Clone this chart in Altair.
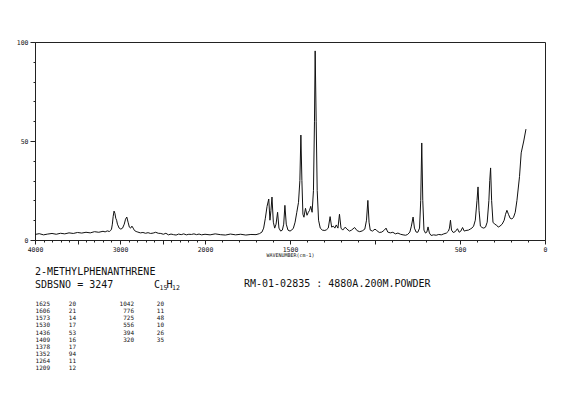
import altair as alt
import pandas as pd

# Raman spectrum of 2-methylphenanthrene
wavenumber = [
    4000, 3950, 3900, 3850, 3800, 3750, 3700, 3650, 3600, 3550, 3500, 3450, 3400, 3350,
    3300, 3250, 3200, 3175, 3150, 3125, 3110, 3100, 3090, 3080, 3070, 3060, 3050, 3040,
    3030, 3010, 2990, 2970, 2950, 2935, 2920, 2905, 2890, 2875, 2860, 2845, 2830, 2810,
    2790, 2760, 2730, 2700, 2670, 2640, 2610, 2580, 2550, 2520, 2490, 2460, 2430, 2400,
    2370, 2340, 2310, 2280, 2250, 2220, 2190, 2160, 2130, 2100, 2070, 2040, 2000, 1970,
    1940, 1910, 1880, 1850, 1820, 1790, 1760, 1730, 1700, 1680, 1665, 1655, 1645, 1635,
    1625, 1618, 1612, 1606, 1598, 1590, 1582, 1573, 1565, 1555, 1545, 1537, 1530, 1522,
    1512, 1500, 1490, 1480, 1470, 1460, 1450, 1442, 1436, 1430, 1424, 1418, 1409, 1400,
    1392, 1385, 1378, 1370, 1362, 1356, 1352, 1346, 1340, 1332, 1322, 1310, 1295, 1285,
    1275, 1264, 1255, 1245, 1236, 1228, 1218, 1209, 1200, 1190, 1175, 1165, 1150, 1138,
    1120, 1105, 1090, 1075, 1060, 1050, 1042, 1035, 1028, 1015, 1000, 990, 975, 960,
    945, 935, 925, 910, 895, 880, 865, 850, 835, 820, 808, 795, 786, 776, 768, 758,
    748, 738, 731, 725, 719, 712, 703, 695, 688, 680, 670, 655, 640, 625, 610, 595,
    580, 568, 562, 556, 550, 540, 528, 515, 505, 495, 485, 475, 465, 450, 440, 430,
    420, 410, 400, 394, 388, 380, 370, 360, 350, 340, 330, 325, 320, 314, 306, 296,
    285, 275, 265, 252, 240, 232, 224, 215, 205, 195, 185, 175, 165, 150, 140, 125, 112,
]
intensity = [
    2.8, 3.2, 2.6, 3.0, 3.3, 2.9, 3.4, 3.1, 3.6, 3.3, 3.8, 3.5, 3.9, 3.6,
    4.2, 3.9, 4.4, 4.1, 4.6, 4.3, 4.8, 5.5, 8.0, 12.0, 14.6, 13.5, 11.0, 10.0,
    8.0, 6.0, 5.5, 6.0, 8.0, 10.5, 11.6, 9.0, 6.5, 6.0, 7.0, 6.0, 4.8, 4.3,
    4.0, 3.6, 3.8, 3.4, 3.7, 3.3, 3.5, 3.9, 3.4, 3.3, 2.9, 3.4, 2.6, 3.0,
    2.7, 2.5, 3.0, 2.7, 3.1, 2.6, 2.9, 2.8, 3.1, 2.7, 3.0, 2.6, 2.9, 2.6,
    3.1, 2.7, 2.5, 3.0, 2.6, 2.9, 2.5, 2.8, 2.7, 3.2, 4.0, 6.0, 11.0, 17.0,
    20.7, 10.0, 15.0, 21.7, 9.0, 6.0, 8.0, 14.0, 6.0, 4.5, 5.0, 8.0, 17.5, 8.0,
    5.0, 4.5, 5.0, 6.0, 9.0, 14.0, 19.0, 30.0, 53.0, 30.0, 13.0, 11.5, 16.0, 12.5,
    14.0, 15.0, 17.0, 14.0, 25.0, 60.0, 95.5, 60.0, 25.0, 10.0, 6.0, 5.0, 4.8, 5.2,
    6.0, 11.8, 6.5, 7.0, 6.0, 7.6, 6.0, 13.0, 6.0, 5.0, 6.5, 5.5, 4.5, 5.0,
    6.3, 4.7, 4.2, 4.6, 5.5, 10.0, 20.0, 9.0, 5.0, 4.5, 5.5, 4.8, 3.8, 4.0,
    5.0, 6.0, 4.0, 3.6, 3.9, 3.1, 3.5, 2.9, 2.6, 2.4, 2.8, 4.0, 7.0, 11.6, 6.0, 4.0,
    3.9, 6.0, 20.0, 49.0, 20.0, 5.0, 3.5, 4.0, 6.6, 3.5, 2.3, 2.6, 2.4, 2.8, 2.6, 3.1,
    3.5, 4.5, 6.0, 10.0, 5.0, 3.8, 4.2, 5.7, 3.9, 4.5, 6.3, 4.5, 4.8, 5.0, 5.5, 6.0,
    7.0, 10.0, 20.0, 26.8, 15.0, 7.0, 6.3, 6.0, 6.5, 9.0, 20.0, 30.0, 36.4, 20.0, 9.0, 8.0,
    7.5, 6.5, 7.0, 8.0, 10.0, 13.0, 15.0, 13.0, 11.0, 10.6, 11.5, 14.0, 20.0, 32.0, 44.0, 50.0, 56.0,
]

# Peak table
peak_wn = [1625, 1606, 1573, 1530, 1436, 1409, 1378, 1352, 1264, 1209,
           1042, 776, 725, 556, 394, 320]
peak_int = [20, 21, 14, 17, 53, 16, 17, 94, 11, 12,
            20, 11, 48, 10, 26, 35]

x_labels = [4000, 3000, 2000, 1500, 500, 0]
y_labels = [0, 50, 100]

compound = "2-METHYLPHENANTHRENE"
sdbs_no = "SDBSNO = 3247"
conditions = "RM-01-02835 : 4880A.200M.POWDER"

spec = pd.DataFrame({"wn": wavenumber, "I": intensity})

MONO = "DejaVu Sans Mono"
W, H = 510, 198

lab_list = ",".join(str(v) for v in x_labels)
ylab_list = ",".join(str(v) for v in y_labels)

x_enc = alt.X(
    "wn:Q",
    scale=alt.Scale(domain=[4000, 2000, 0], range=[0, W / 3, W], nice=False, zero=False),
    axis=alt.Axis(
        title="WAVENUMBER(cm-1)",
        titleFont=MONO, titleFontSize=5, titleFontWeight="normal", titlePadding=0,
        titleColor="#111",
        values=list(range(4000, -1, -100)),
        labelExpr=f"indexof([{lab_list}], datum.value) >= 0 ? datum.label : ''",
        format="d",
        labelFont=MONO, labelFontSize=6.5, labelColor="#111", labelPadding=2,
        labelOverlap=False, labelFlush=False,
        tickSize={"condition": {"test": "datum.value % 500 === 0", "value": 4}, "value": 2},
        tickColor="#222", domainColor="#222", grid=False,
    ),
)
y_enc = alt.Y(
    "I:Q",
    scale=alt.Scale(domain=[0, 100], nice=False),
    axis=alt.Axis(
        title=None,
        values=list(range(0, 101, 10)),
        labelExpr=f"indexof([{ylab_list}], datum.value) >= 0 ? datum.label : ''",
        labelFont=MONO, labelFontSize=6.5, labelColor="#111", labelPadding=2,
        labelOverlap=False, labelFlush=False,
        tickSize={"condition": {"test": "datum.value % 50 === 0", "value": 5}, "value": 2},
        tickColor="#222", domainColor="#222", grid=False,
    ),
)

line = alt.Chart(spec).mark_line(color="#111", strokeWidth=1, clip=True).encode(x=x_enc, y=y_enc)

# Header texts below the plot
hdr = pd.DataFrame({
    "t": [compound, sdbs_no, conditions, "C", "15", "H", "12"],
    "px": [0, 0, 209, 119, 124.5, 131.5, 137],
    "py": [232.5, 245.7, 245.2, 245.7, 247.8, 245.7, 247.8],
    "fs": [10, 10, 10, 10, 6.5, 10, 6.5],
})
header = alt.Chart(hdr).mark_text(align="left", baseline="alphabetic", font=MONO, color="#111").encode(
    x=alt.X("px:Q", scale=None),
    y=alt.Y("py:Q", scale=None),
    text="t:N",
    size=alt.Size("fs:Q", scale=None, legend=None),
)

# Peak table
n1 = 10
rows = []
for i, (w, v) in enumerate(zip(peak_wn, peak_int)):
    r = i if i < n1 else i - n1
    c = 0 if i < n1 else 1
    rows.append({"t": str(w), "px": [15, 99][c], "py": 264 + 7.14 * r})
    rows.append({"t": str(v), "px": [41, 129][c], "py": 264 + 7.14 * r})
tab = pd.DataFrame(rows)
table = alt.Chart(tab).mark_text(align="right", baseline="alphabetic", font=MONO, fontSize=6, color="#111").encode(
    x=alt.X("px:Q", scale=None),
    y=alt.Y("py:Q", scale=None),
    text="t:N",
)

chart = (
    alt.layer(line, header, table)
    .properties(
        width=W, height=H,
        autosize=alt.AutoSizeParams(type="none"),
        padding={"left": 27, "top": 34, "right": 15, "bottom": 140},
        background="white",
    )
    .configure_view(stroke="#222", strokeWidth=1)
)

chart.save("out.html", embed_options={"renderer": "svg", "actions": False})
